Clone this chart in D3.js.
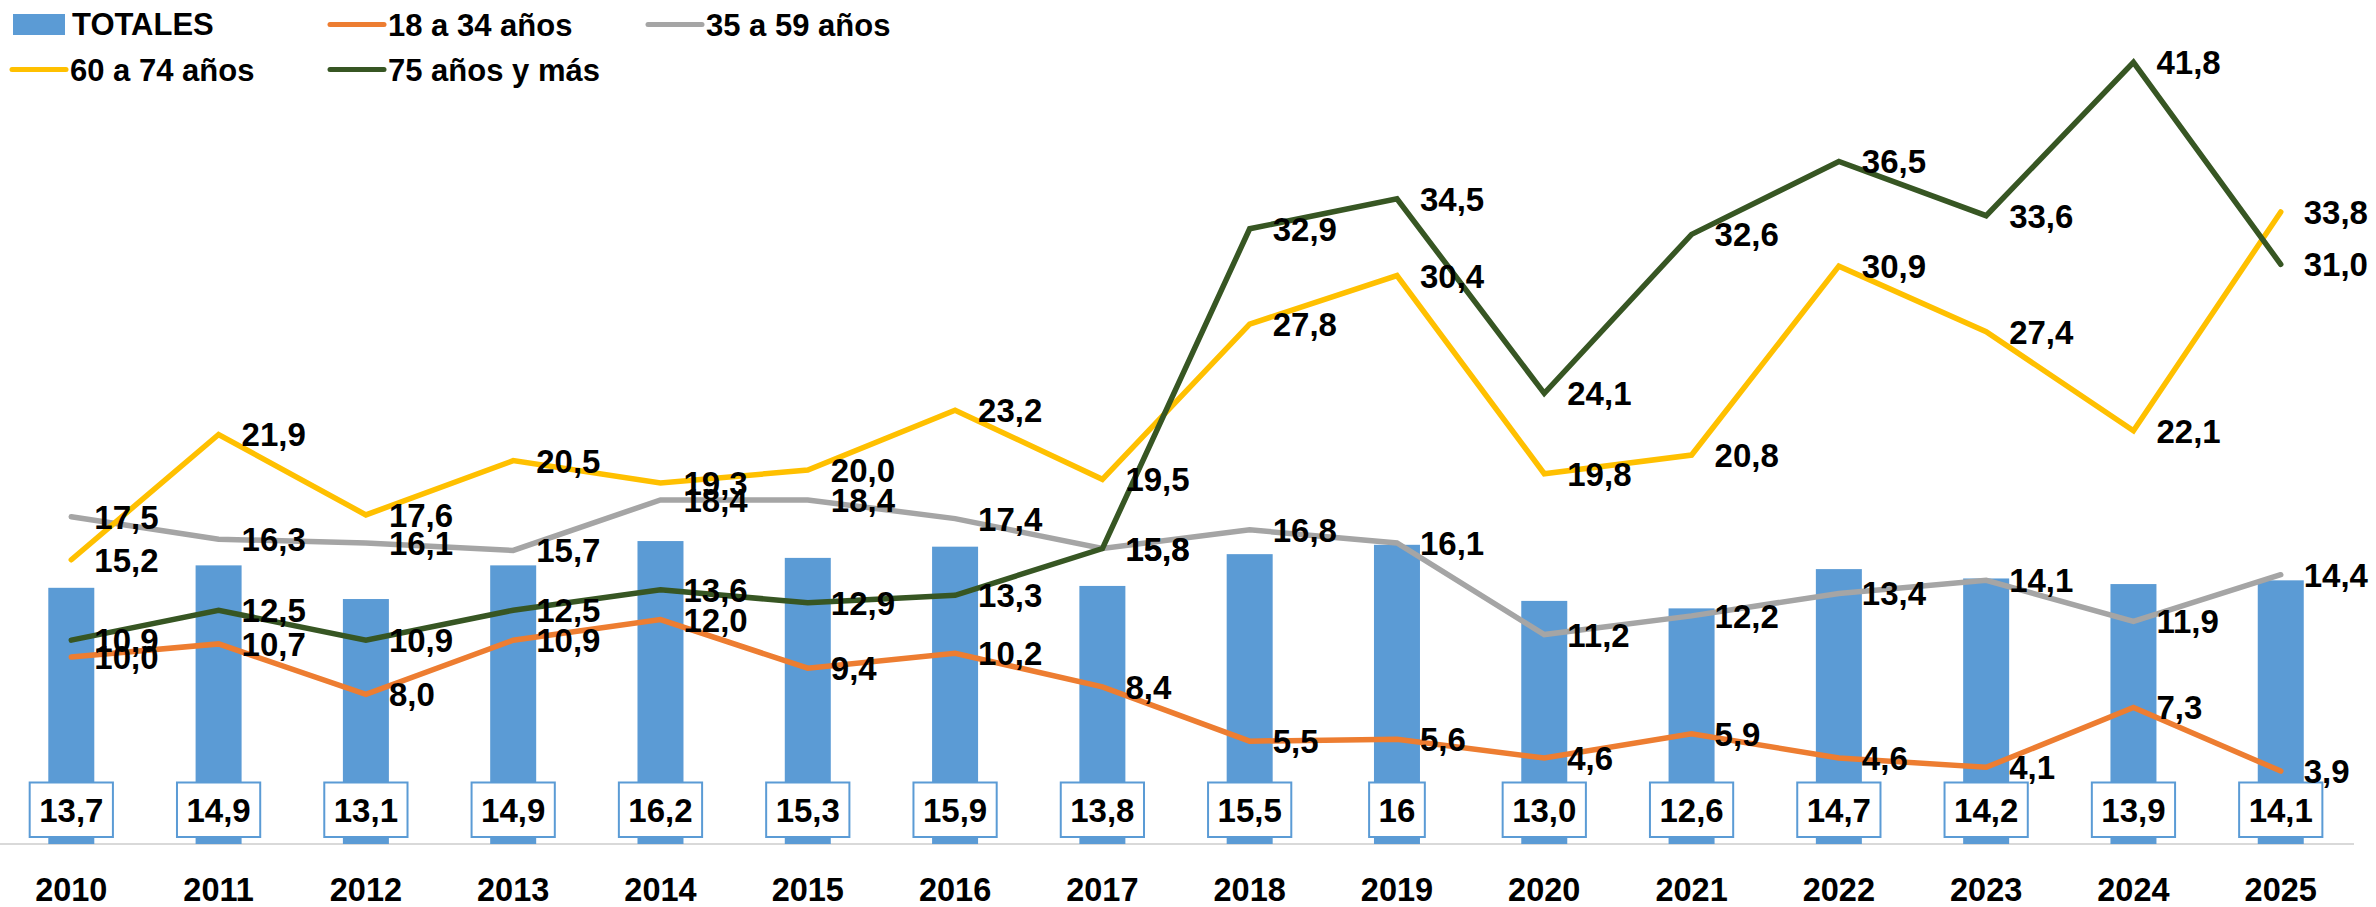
<!DOCTYPE html>
<html>
<head>
<meta charset="utf-8">
<script src="https://cdn.jsdelivr.net/npm/d3@7"></script>
<style>
  html, body { margin: 0; padding: 0; background: #ffffff; }
  svg { display: block; }
  text { font-family: "Liberation Sans", Arial, sans-serif; font-weight: bold; fill: #000; }
</style>
</head>
<body>
<svg id="chart" width="2376" height="907"></svg>
<script>
// ---- data ----
const years = ["2010","2011","2012","2013","2014","2015","2016","2017","2018","2019","2020","2021","2022","2023","2024","2025"];
const totales = [13.7, 14.9, 13.1, 14.9, 16.2, 15.3, 15.9, 13.8, 15.5, 16, 13.0, 12.6, 14.7, 14.2, 13.9, 14.1];
const totalesLabels = ["13,7","14,9","13,1","14,9","16,2","15,3","15,9","13,8","15,5","16","13,0","12,6","14,7","14,2","13,9","14,1"];
const s18a34 = [10.0, 10.7, 8.0, 10.9, 12.0, 9.4, 10.2, 8.4, 5.5, 5.6, 4.6, 5.9, 4.6, 4.1, 7.3, 3.9];
const s35a59 = [17.5, 16.3, 16.1, 15.7, 18.4, 18.4, 17.4, 15.8, 16.8, 16.1, 11.2, 12.2, 13.4, 14.1, 11.9, 14.4];
const s60a74 = [15.2, 21.9, 17.6, 20.5, 19.3, 20.0, 23.2, 19.5, 27.8, 30.4, 19.8, 20.8, 30.9, 27.4, 22.1, 33.8];
const s75mas = [10.9, 12.5, 10.9, 12.5, 13.6, 12.9, 13.3, 15.8, 32.9, 34.5, 24.1, 32.6, 36.5, 33.6, 41.8, 31.0];
const seriesNames = ["TOTALES", "18 a 34 años", "35 a 59 años", "60 a 74 años", "75 años y más"];
const yDomain = [0, 45];

// ---- styles ----
const colors = {
  bar: "#5B9BD5",
  s18: "#ED7D31",
  s35: "#A5A5A5",
  s60: "#FFC000",
  s75: "#375623"
};

const svg = d3.select("#chart");
const baseY = 844;

const x = d3.scaleBand().domain(years).range([-2.35, 2354.4]).padding(0);
const y = d3.scaleLinear().domain(yDomain).range([baseY, baseY - 45 * 18.7]);
const cx = d => x(d) + x.bandwidth() / 2;
const fmt = v => d3.format(".1f")(v).replace(".", ",");

// axis line
svg.append("line")
  .attr("x1", 0).attr("x2", 2354)
  .attr("y1", baseY).attr("y2", baseY)
  .attr("stroke", "#D9D9D9").attr("stroke-width", 2);

// bars
const barW = 46;
svg.append("g").selectAll("rect").data(years).join("rect")
  .attr("x", (d) => cx(d) - barW / 2)
  .attr("width", barW)
  .attr("y", (d, i) => y(totales[i]))
  .attr("height", (d, i) => baseY - y(totales[i]))
  .attr("fill", colors.bar);

// lines
const lineSeries = [
  { vals: s18a34, color: colors.s18 },
  { vals: s35a59, color: colors.s35 },
  { vals: s60a74, color: colors.s60 },
  { vals: s75mas, color: colors.s75 }
];
const lineGen = d3.line().x((d, i) => cx(years[i])).y(d => y(d));
lineSeries.forEach(s => {
  svg.append("path")
    .datum(s.vals)
    .attr("d", lineGen)
    .attr("fill", "none")
    .attr("stroke", s.color)
    .attr("stroke-width", 5.5)
    .attr("stroke-linecap", "round")
    .attr("stroke-linejoin", "miter");
});

// boxed labels for totals
const boxG = svg.append("g");
years.forEach((yr, i) => {
  const t = boxG.append("text")
    .attr("x", cx(yr)).attr("y", 822)
    .attr("text-anchor", "middle")
    .attr("font-size", 33)
    .text(totalesLabels[i]);
  const w = t.node().getComputedTextLength();
  boxG.insert("rect", "text")
    .attr("x", cx(yr) - w / 2 - 9.5)
    .attr("y", 782.5)
    .attr("width", w + 19)
    .attr("height", 54.5)
    .attr("fill", "#ffffff")
    .attr("stroke", colors.bar)
    .attr("stroke-width", 2);
});

// line data labels
lineSeries.forEach(s => {
  svg.append("g").selectAll("text").data(s.vals).join("text")
    .attr("x", (d, i) => cx(years[i]) + 23)
    .attr("y", d => y(d) + 12)
    .attr("font-size", 33)
    .text(d => fmt(d));
});

// year labels
svg.append("g").selectAll("text").data(years).join("text")
  .attr("x", d => cx(d))
  .attr("y", 901)
  .attr("text-anchor", "middle")
  .attr("font-size", 32.5)
  .text(d => d);

// legend
const legend = svg.append("g");
legend.append("rect").attr("x", 13).attr("y", 14).attr("width", 52).attr("height", 21).attr("fill", colors.bar);
legend.append("text").attr("x", 72).attr("y", 35).attr("font-size", 31).text(seriesNames[0]);
const legItems = [
  { x: 330, y: 24.5, color: colors.s18, name: seriesNames[1] },
  { x: 648, y: 24.5, color: colors.s35, name: seriesNames[2] },
  { x: 12, y: 69.5, color: colors.s60, name: seriesNames[3] },
  { x: 330, y: 69.5, color: colors.s75, name: seriesNames[4] }
];
legItems.forEach(it => {
  legend.append("line")
    .attr("x1", it.x).attr("x2", it.x + 54)
    .attr("y1", it.y).attr("y2", it.y)
    .attr("stroke", it.color).attr("stroke-width", 5)
    .attr("stroke-linecap", "round");
  legend.append("text")
    .attr("x", it.x + 58).attr("y", it.y + 11)
    .attr("font-size", 31)
    .text(it.name);
});
</script>
</body>
</html>
